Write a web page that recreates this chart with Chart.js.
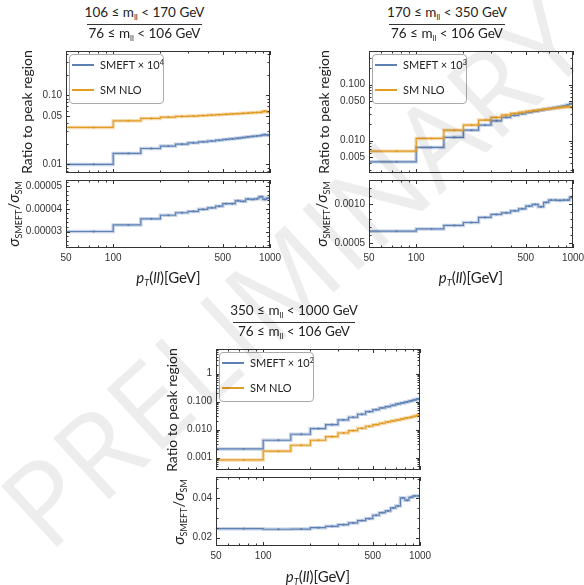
<!DOCTYPE html>
<html>
<head>
<meta charset="utf-8">
<script src="https://cdn.jsdelivr.net/npm/chart.js@4.4.0/dist/chart.umd.min.js"></script>
<style>
body { margin: 0; width: 584px; height: 585px; background: #fff; position: relative; overflow: hidden; font-family: Lato, "Noto Sans", sans-serif; color: #222; }
canvas { position: absolute; }
.abs { position: absolute; white-space: nowrap; }
.frac { font-size: 13.5px; line-height: 14px; transform: translate(-50%, -50%); }
.frac sub { font-size: 8px; vertical-align: -3px; line-height: 0; }
.bar { position: absolute; height: 1px; background: #333; }
.ytitle { font-size: 14px; transform: translate(-50%, -50%) rotate(-90deg); }
.stitle { font-size: 15px; transform: translate(-50%, -50%) rotate(-90deg); }
.stitle sub, .xtitle sub { font-size: 9px; vertical-align: -3px; line-height: 0; }
.xtitle { font-size: 15px; transform: translate(-50%, -50%); }
.legend { position: absolute; border: 1px solid #aaa; border-radius: 4px; background: rgba(255,255,255,0.85); }
.entry { position: absolute; font-size: 11px; line-height: 12px; transform: translateY(-50%); white-space: nowrap; }
.entry sup { font-size: 7px; vertical-align: 4px; line-height: 0; }
.swatch { position: absolute; height: 2px; }
.wm { position: absolute; font-family: "Open Sans", sans-serif; font-weight: 400; font-size: 116px; color: rgba(0,0,0,0.07); white-space: nowrap; transform: translate(-50%, -50%) rotate(-42.6deg); pointer-events: none; letter-spacing: 1px; }
</style>
</head>
<body>
<script>
// pT(ll) bins
const binEdges = [50, 100, 150, 200, 250, 300, 350, 400, 450, 500, 550, 600, 650, 700, 750, 800, 850, 900, 950, 1000];
const binCenters = [75, 125, 175, 225, 275, 325, 375, 425, 475, 525, 575, 625, 675, 725, 775, 825, 875, 925, 975];

// 106 <= mll < 170
const p1Smeft = [0.0100, 0.0144, 0.0170, 0.0184, 0.0196, 0.0205, 0.0212, 0.0218, 0.0224, 0.0230, 0.0235, 0.0240, 0.0245, 0.0250, 0.0254, 0.0258, 0.0262, 0.0270, 0.0265];
const p1Sm = [0.0343, 0.0428, 0.0464, 0.0484, 0.0495, 0.0502, 0.0510, 0.0518, 0.0525, 0.0532, 0.0538, 0.0544, 0.0550, 0.0555, 0.0560, 0.0565, 0.0570, 0.0590, 0.0575];
const p1Ratio = [3.00e-5, 3.29e-5, 3.56e-5, 3.72e-5, 3.83e-5, 3.89e-5, 3.98e-5, 4.05e-5, 4.12e-5, 4.23e-5, 4.23e-5, 4.36e-5, 4.33e-5, 4.44e-5, 4.42e-5, 4.45e-5, 4.54e-5, 4.42e-5, 4.48e-5];

// 170 <= mll < 350
const p2Smeft = [0.00416, 0.00753, 0.0114, 0.0153, 0.0189, 0.0225, 0.0259, 0.0281, 0.0300, 0.0318, 0.0333, 0.0348, 0.0362, 0.0375, 0.0388, 0.0400, 0.0412, 0.0430, 0.0455];
const p2Sm = [0.00646, 0.0109, 0.0153, 0.0189, 0.0232, 0.0259, 0.0285, 0.0305, 0.0320, 0.0333, 0.0345, 0.0355, 0.0365, 0.0373, 0.0380, 0.0388, 0.0395, 0.0400, 0.0395];
const p2Ratio = [6.51e-4, 6.80e-4, 7.24e-4, 7.62e-4, 8.26e-4, 8.64e-4, 8.85e-4, 9.10e-4, 9.36e-4, 9.71e-4, 9.92e-4, 9.62e-4, 1.018e-3, 1.047e-3, 1.047e-3, 1.043e-3, 1.047e-3, 1.047e-3, 1.082e-3];

// 350 <= mll < 1000
const p3Smeft = [0.00205, 0.00418, 0.00685, 0.0109, 0.0151, 0.0222, 0.0277, 0.0355, 0.0440, 0.0518, 0.0595, 0.0663, 0.0743, 0.0828, 0.0899, 0.0977, 0.106, 0.115, 0.125];
const p3Sm = [0.00083, 0.0017, 0.00277, 0.00418, 0.00562, 0.0076, 0.0092, 0.0112, 0.0132, 0.0151, 0.0169, 0.0188, 0.0205, 0.0222, 0.0241, 0.0262, 0.0277, 0.0301, 0.0327];
const p3Ratio = [0.0246, 0.0243, 0.0244, 0.0251, 0.0258, 0.0266, 0.0275, 0.0287, 0.0297, 0.0314, 0.0327, 0.0336, 0.0351, 0.0361, 0.0402, 0.0390, 0.0405, 0.0412, 0.0412];

// tick labels
const xTicks = [50, 100, 500, 1000];
const xTickLabels = ['50', '100', '500', '1000'];
const xMinor = [60, 70, 80, 90, 200, 300, 400, 600, 700, 800, 900];

const p1TopTicks = [0.01, 0.05, 0.1];
const p1TopLabels = ['0.01', '0.05', '0.10'];
const p1BotTicks = [3e-5, 4e-5, 5e-5];
const p1BotLabels = ['0.00003', '0.00004', '0.00005'];
const p2TopTicks = [0.005, 0.01, 0.05, 0.1];
const p2TopLabels = ['0.005', '0.010', '0.050', '0.100'];
const p2BotTicks = [5e-4, 1e-3];
const p2BotLabels = ['0.0005', '0.0010'];
const p3TopTicks = [0.001, 0.01, 0.1, 1];
const p3TopLabels = ['0.001', '0.010', '0.100', '1'];
const p3BotTicks = [0.02, 0.04];
const p3BotLabels = ['0.02', '0.04'];

const BLUE = '#5E81B5';
const ORANGE = '#E19C24';
const BLUE_BAND = 'rgba(94,129,181,0.35)';
const ORANGE_BAND = 'rgba(225,156,36,0.35)';

function logMinors(lo, hi) {
    const out = [];
    for (let e = -6; e <= 1; e++) {
        for (let m = 1; m <= 9; m++) {
            const v = m * Math.pow(10, e);
            if (v > lo && v < hi) out.push(v);
        }
    }
    return out;
}

function linMinors(lo, hi, step) {
    const out = [];
    for (let v = Math.ceil(lo / step) * step; v < hi; v += step) out.push(v);
    return out;
}

function stepPoints(vals) {
    return binEdges.map((e, i) => ({ x: e, y: vals[Math.min(i, vals.length - 1)] }));
}

function centerPoints(vals) {
    return binCenters.map((c, i) => ({ x: c, y: vals[i] }));
}

// frame with inward ticks on all four sides
const frameTicks = {
    id: 'frameTicks',
    afterDraw(chart, args, o) {
        const { ctx, chartArea: a } = chart;
        const xs = chart.scales.x, ys = chart.scales.y;
        ctx.save();
        ctx.strokeStyle = '#333';
        ctx.lineWidth = 1;
        ctx.beginPath();
        const xTick = (v, len) => {
            const px = Math.round(xs.getPixelForValue(v)) + 0.5;
            ctx.moveTo(px, a.bottom); ctx.lineTo(px, a.bottom - len);
            ctx.moveTo(px, a.top); ctx.lineTo(px, a.top + len);
        };
        const yTick = (v, len) => {
            const py = Math.round(ys.getPixelForValue(v)) + 0.5;
            ctx.moveTo(a.left, py); ctx.lineTo(a.left + len, py);
            ctx.moveTo(a.right, py); ctx.lineTo(a.right - len, py);
        };
        o.xMajor.forEach(v => xTick(v, 4));
        o.xMinor.forEach(v => xTick(v, 2.5));
        o.yMajor.forEach(v => yTick(v, 4));
        o.yMinor.forEach(v => yTick(v, 2.5));
        ctx.stroke();
        ctx.strokeRect(a.left + 0.5, a.top + 0.5, a.width - 1, a.height - 1);
        ctx.restore();
    }
};

const PAD_TOP = 10, Y_W = 50, PAD_R = 18;

function makePlot(box, cfg) {
    const xh = cfg.showX ? 26 : 10;
    const canvas = document.createElement('canvas');
    const w = (box.r - box.l) + Y_W + PAD_R;
    const h = (box.b - box.t) + PAD_TOP + xh;
    canvas.width = w; canvas.height = h;
    canvas.style.left = (box.l - Y_W) + 'px';
    canvas.style.top = (box.t - PAD_TOP) + 'px';
    canvas.style.width = w + 'px'; canvas.style.height = h + 'px';
    document.body.appendChild(canvas);

    const datasets = [];
    cfg.series.forEach(s => {
        datasets.push({ data: stepPoints(s.vals), borderColor: s.band, borderWidth: 3.5, stepped: 'before', pointRadius: 0, fill: false });
        datasets.push({ data: stepPoints(s.vals), borderColor: s.color, borderWidth: 1.2, stepped: 'before', pointRadius: 0, fill: false });
        datasets.push({ data: centerPoints(s.vals), showLine: false, pointRadius: 1.4, pointStyle: 'rect', backgroundColor: s.color, borderWidth: 0 });
    });

    new Chart(canvas, {
        type: 'line',
        data: { datasets },
        options: {
            responsive: false,
            animation: false,
            devicePixelRatio: 1,
            events: [],
            layout: { padding: { top: PAD_TOP, right: PAD_R, left: 0, bottom: 0 } },
            plugins: {
                legend: { display: false },
                tooltip: { enabled: false },
                frameTicks: {
                    xMajor: xTicks, xMinor: xMinor,
                    yMajor: cfg.yTicks, yMinor: cfg.yMinor
                }
            },
            scales: {
                x: {
                    type: 'logarithmic', min: 50, max: 1000,
                    grid: { display: false, drawTicks: false },
                    border: { display: false },
                    afterBuildTicks: s => { s.ticks = xTicks.map(v => ({ value: v })); },
                    afterFit: s => { s.height = xh; },
                    ticks: {
                        display: cfg.showX, autoSkip: false, maxRotation: 0, padding: 4,
                        color: '#333', font: { family: 'Liberation Sans', size: 10 },
                        callback: (v, i) => xTickLabels[i]
                    }
                },
                y: {
                    type: cfg.yType, min: cfg.yMin, max: cfg.yMax,
                    grid: { display: false, drawTicks: false },
                    border: { display: false },
                    afterBuildTicks: s => { s.ticks = cfg.yTicks.map(v => ({ value: v })); },
                    afterFit: s => { s.width = Y_W; },
                    ticks: {
                        autoSkip: false, padding: 4,
                        color: '#333', font: { family: 'Liberation Sans', size: 10 },
                        callback: (v, i) => cfg.yLabels[i]
                    }
                }
            }
        },
        plugins: [frameTicks]
    });
}

function addHtml(html) {
    document.body.insertAdjacentHTML('beforeend', html);
}

function addTitle(cx, cy, num, den, barL, barR) {
    addHtml(`<div class="abs frac" style="left:${cx}px;top:${cy}px">${num}</div>`);
    addHtml(`<div class="bar" style="left:${barL}px;top:${cy + 12}px;width:${barR - barL}px"></div>`);
    addHtml(`<div class="abs frac" style="left:${cx}px;top:${cy + 20.5}px">${den}</div>`);
}

function addLegend(l, t, w, h, power) {
    addHtml(`<div class="legend" style="left:${l}px;top:${t}px;width:${w}px;height:${h}px">
      <div class="swatch" style="left:2px;top:${9}px;width:22px;background:${BLUE}"></div>
      <div class="entry" style="left:30px;top:${10}px">SMEFT × 10<sup>${power}</sup></div>
      <div class="swatch" style="left:2px;top:${34}px;width:22px;background:${ORANGE}"></div>
      <div class="entry" style="left:30px;top:${35}px">SM NLO</div>
    </div>`);
}

const panels = [
    {
        top: { l: 66, t: 51, r: 270, b: 173 }, bot: { l: 66, t: 180, r: 270, b: 248 },
        smeft: p1Smeft, sm: p1Sm, ratio: p1Ratio,
        topY: [0.0075, 0.44], topTicks: p1TopTicks, topLabels: p1TopLabels,
        botY: [2.27e-5, 5.28e-5], botTicks: p1BotTicks, botLabels: p1BotLabels, botStep: 0.2e-5,
        num: '106 ≤ m<sub>ll</sub> &lt; 170 GeV', power: 4,
        titleX: 144.5, titleY: 12.3, barL: 87, barR: 201.5,
        yTitleX: 26, sTitleX: 13, xTitleX: 168.5, xTitleY: 277
    },
    {
        top: { l: 369, t: 51, r: 573, b: 173 }, bot: { l: 369, t: 180, r: 573, b: 248 },
        smeft: p2Smeft, sm: p2Sm, ratio: p2Ratio,
        topY: [0.00263, 0.398], topTicks: p2TopTicks, topLabels: p2TopLabels,
        botY: [4.37e-4, 1.303e-3], botTicks: p2BotTicks, botLabels: p2BotLabels, botStep: 1e-4,
        num: '170 ≤ m<sub>ll</sub> &lt; 350 GeV', power: 3,
        titleX: 447, titleY: 12.3, barL: 389, barR: 505,
        yTitleX: 323, sTitleX: 321, xTitleX: 471, xTitleY: 277
    },
    {
        top: { l: 216, t: 349, r: 420, b: 470 }, bot: { l: 216, t: 477, r: 420, b: 546 },
        smeft: p3Smeft, sm: p3Sm, ratio: p3Ratio,
        topY: [3.63e-4, 7.56], topTicks: p3TopTicks, topLabels: p3TopLabels,
        botY: [0.0158, 0.0508], botTicks: p3BotTicks, botLabels: p3BotLabels, botStep: 0.005,
        num: '350 ≤ m<sub>ll</sub> &lt; 1000 GeV', power: 2,
        titleX: 294, titleY: 310, barL: 233, barR: 355,
        yTitleX: 170.6, sTitleX: 178, xTitleX: 318, xTitleY: 576
    }
];

panels.forEach(p => {
    makePlot(p.top, {
        showX: false, yType: 'logarithmic', yMin: p.topY[0], yMax: p.topY[1],
        yTicks: p.topTicks, yLabels: p.topLabels, yMinor: logMinors(p.topY[0], p.topY[1]).filter(v => !p.topTicks.includes(v)),
        series: [
            { vals: p.sm, color: ORANGE, band: ORANGE_BAND },
            { vals: p.smeft, color: BLUE, band: BLUE_BAND }
        ]
    });
    makePlot(p.bot, {
        showX: true, yType: 'linear', yMin: p.botY[0], yMax: p.botY[1],
        yTicks: p.botTicks, yLabels: p.botLabels, yMinor: linMinors(p.botY[0], p.botY[1], p.botStep),
        series: [{ vals: p.ratio, color: BLUE, band: BLUE_BAND }]
    });

    addTitle(p.titleX, p.titleY, p.num, '76 ≤ m<sub>ll</sub> &lt; 106 GeV', p.barL, p.barR);
    addLegend(p.top.l + 3, p.top.t + 3, 93, 48, p.power);
    addHtml(`<div class="abs ytitle" style="left:${p.yTitleX}px;top:${(p.top.t + p.top.b) / 2}px">Ratio to peak region</div>`);
    addHtml(`<div class="abs stitle" style="left:${p.sTitleX}px;top:${(p.bot.t + p.bot.b) / 2}px"><i>σ</i><sub>SMEFT</sub>/<i>σ</i><sub>SM</sub></div>`);
    addHtml(`<div class="abs xtitle" style="left:${p.xTitleX}px;top:${p.xTitleY}px"><i>p</i><sub><i>T</i></sub>(<i>ll</i>)[GeV]</div>`);
});

addHtml('<div class="wm" style="left:292px;top:270px">PRELIMINARY</div>');
</script>
</body>
</html>
